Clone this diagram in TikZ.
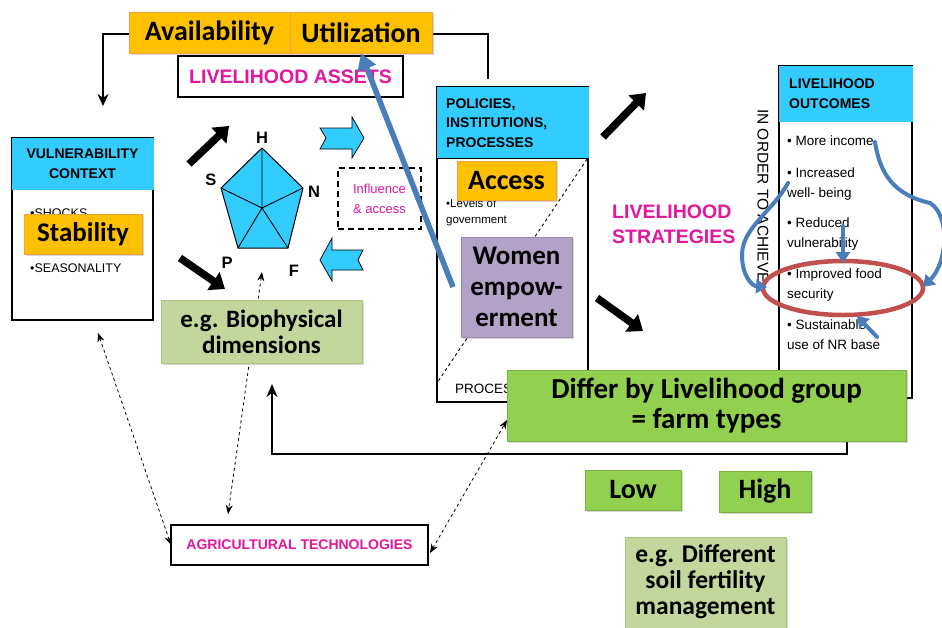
\documentclass[tikz,border=0pt]{standalone}
\usepackage{fontspec}
\setmainfont{Carlito}
\newfontfamily\arial{Liberation Sans}
\usetikzlibrary{arrows.meta,shadows,calc}
\definecolor{cyanb}{HTML}{33CCFF}
\definecolor{orng}{HTML}{FFC000}
\definecolor{orngb}{HTML}{F5A040}
\definecolor{mag}{HTML}{E2179C}
\definecolor{grn}{HTML}{92D050}
\definecolor{pgrn}{HTML}{C3D69B}
\definecolor{pgrnb}{HTML}{A9C47F}
\definecolor{purp}{HTML}{B3A2C7}
\definecolor{bluel}{HTML}{4A7EBB}
\definecolor{redl}{HTML}{C0504D}
\tikzset{
  shad/.style={drop shadow={opacity=0.3,shadow xshift=1.5pt,shadow yshift=-1.5pt}},
  obox/.style={fill=orng,draw=orngb,line width=0.8pt,inner sep=0pt,shad,font=\fontsize{28}{30}\selectfont\bfseries},
  gbox/.style={fill=grn,draw=grn!85!black,line width=0.6pt,inner sep=0pt,shad,align=center,font=\fontsize{28}{30}\selectfont\bfseries},
  pbox/.style={fill=pgrn,draw=pgrnb,line width=0.8pt,inner sep=0pt,shad,align=center,font=\fontsize{25}{26}\selectfont\bfseries},
  wbox/.style={draw,line width=1.3pt,inner sep=0pt},
  hdr/.style={fill=cyanb,inner sep=0pt},
  hdrtxt/.style={font=\arial\bfseries\fontsize{14}{20}\selectfont,inner sep=0pt},
  smalltxt/.style={font=\arial\fontsize{12.5}{20}\selectfont,inner sep=0pt,align=left},
  magtxt/.style={text=mag,font=\arial\bfseries\fontsize{19.5}{24}\selectfont,inner sep=0pt},
  pentlbl/.style={font=\arial\bfseries\fontsize{16.5}{16}\selectfont,inner sep=0pt},
  blockarrow/.style={line width=7.5pt,-{Triangle[length=14pt,width=21pt]}},
  chev/.style={fill=cyanb,draw=black,line width=0.7pt},
  blarrow/.style={draw=bluel,line width=4pt,-{Triangle[length=11pt,width=14pt]}},
  dasharrow/.style={dashed,line width=0.8pt,{Stealth[length=9pt,width=7pt]}-{Stealth[length=9pt,width=7pt]}},
  fbline/.style={line width=2.6pt,-{Stealth[length=13pt,width=11pt]}}
}
\begin{document}
\begin{tikzpicture}[x=1pt,y=-1pt]
\clip (0,0) rectangle (942,627);
\fill[white] (0,0) rectangle (942,627);

% ---------- top connectors ----------
\coordinate (tl1) at (103,34);
\coordinate (tl2) at (103,106);
\coordinate (tr1) at (488,34);
\coordinate (tr2) at (488,79);
\draw[line width=2.5pt,-{Stealth[length=12pt,width=11pt]}] (129,34) -- (tl1) -- (tl2);
\draw[line width=2.5pt] (432,34) -- (tr1) -- (tr2);

% ---------- feedback line ----------
\coordinate (fb1) at (847,454);
\coordinate (fb2) at (272,454);
\coordinate (fb3) at (272,384);
\draw[fbline] (847,398) -- (fb1) -- (fb2) -- (fb3);

% ---------- availability / utilization ----------
\node[obox,minimum width=161pt,minimum height=41pt] (avail) at (209.5,32.5) {Availability};
\node[obox,minimum width=142pt,minimum height=41pt] (util) at (361,32.5) {Utilization};

% ---------- livelihood assets ----------
\node[wbox,minimum width=225pt,minimum height=41pt,magtxt] (assets) at (290.5,76.5) {LIVELIHOOD ASSETS};

% ---------- vulnerability context ----------
\node[wbox,minimum width=141pt,minimum height=182pt] (vul) at (82.5,229) {};
\node[hdr,minimum width=142pt,minimum height=52pt] (vulh) at (82.5,164) {};
\node[hdrtxt,align=center] at (vulh) {VULNERABILITY\\CONTEXT};
\node[smalltxt,anchor=west] (shocks) at (30,213) {•SHOCKS};
\node[smalltxt,anchor=west] (season) at (30,268) {•SEASONALITY};
\node[obox,minimum width=118pt,minimum height=40pt,font=\fontsize{27}{29}\selectfont\bfseries] (stab) at (83,234) {Stability};

% ---------- pentagon ----------
\coordinate (H) at (262,148);
\coordinate (N) at (303,188);
\coordinate (F) at (288,248);
\coordinate (P) at (238,248);
\coordinate (S) at (221,188);
\coordinate (C) at (262,208);
\filldraw[fill=cyanb,line width=1pt,line join=round] (H) -- (N) -- (F) -- (P) -- (S) -- cycle;
\draw[line width=0.9pt] (C) -- (H) (C) -- (N) (C) -- (F) (C) -- (P) (C) -- (S);
\node[pentlbl] at (262,138) {H};
\node[pentlbl] at (211,180) {S};
\node[pentlbl] at (314,192) {N};
\node[pentlbl] at (227,263) {P};
\node[pentlbl] at (294,271) {F};

% ---------- black block arrows ----------
\coordinate (ba1s) at (189,164); \coordinate (ba1e) at (229,126);
\coordinate (ba2s) at (180,258); \coordinate (ba2e) at (225,289);
\coordinate (ba3s) at (603,137); \coordinate (ba3e) at (646,93);
\coordinate (ba4s) at (597,298); \coordinate (ba4e) at (643,331);
\draw[blockarrow] (ba1s) -- (ba1e);
\draw[blockarrow] (ba2s) -- (ba2e);
\draw[blockarrow] (ba3s) -- (ba3e);
\draw[blockarrow] (ba4s) -- (ba4e);

% ---------- cyan chevron arrows ----------
\draw[chev] (320,128) -- (352,128) -- (352,117) -- (364,138) -- (352,158) -- (352,149) -- (320,149) -- (326,138) -- cycle;
\draw[chev] (363,250) -- (332,250) -- (332,238) -- (320,260) -- (332,281) -- (332,270) -- (363,270) -- (358,260) -- cycle;

% ---------- influence & access ----------
\node[draw,dashed,dash pattern=on 6pt off 4pt,line width=1.1pt,minimum width=83pt,minimum height=61pt,inner sep=0pt,
      text=mag,font=\arial\fontsize{13}{20}\selectfont,align=center] (infl) at (379.5,198.5) {Influence\\\& access};

% ---------- dashed double arrows ----------
\coordinate (vulbot) at (98,333);
\coordinate (pentbot) at (262,272);
\coordinate (agritop) at (228,514);
\draw[dasharrow] (vulbot) -- (171,545);
\draw[dasharrow] (pentbot) -- (agritop);
\draw[dasharrow] (430,553) -- (507,420);

% ---------- biophysical ----------
\node[pbox,minimum width=201pt,minimum height=63pt] (bio) at (261.5,331.5) {e.g. Biophysical\\dimensions};

% ---------- agricultural technologies ----------
\node[wbox,line width=1.1pt,minimum width=257pt,minimum height=40pt,text=mag,font=\arial\bfseries\fontsize{14}{16}\selectfont] (agri) at (299.5,545) {AGRICULTURAL TECHNOLOGIES};

% ---------- policies box ----------
\node[wbox,line width=1.5pt,minimum width=151pt,minimum height=315pt] (pol) at (512.5,244.5) {};
\node[hdr,minimum width=152pt,minimum height=71pt] (polh) at (512.5,122.5) {};
\draw[line width=1.3pt] (polh.south west) -- (polh.south east);
\node[hdrtxt,align=left,anchor=west,font=\arial\bfseries\fontsize{14}{19.5}\selectfont] at (446,123) {POLICIES,\\INSTITUTIONS,\\PROCESSES};
\draw[dashed,line width=0.9pt] (587,159) -- (437,383);
\node[smalltxt,anchor=north west,font=\arial\fontsize{11.5}{16}\selectfont] (levels) at (446,199) {•Levels of\\government};
\node[smalltxt,anchor=west,font=\arial\fontsize{13.5}{16}\selectfont] (proc) at (455,389) {PROCESSES};
\node[obox,minimum width=99pt,minimum height=39pt] (access) at (506.5,180.5) {Access};
\node[fill=purp,draw=purp!85!black,line width=0.5pt,inner sep=0pt,shad,minimum width=111pt,minimum height=100pt,
      align=center,font=\fontsize{27}{31}\selectfont\bfseries] (women) at (516.5,287) {Women\\empow-\\erment};

% ---------- livelihood strategies ----------
\node[magtxt,align=left,anchor=west,font=\arial\bfseries\fontsize{19.5}{25}\selectfont] (strat) at (612,224) {LIVELIHOOD\\STRATEGIES};
\node[rotate=-90,font=\arial\fontsize{15.5}{16}\selectfont,inner sep=0pt] (order) at (763,196) {IN ORDER TO ACHIEVE};

% ---------- livelihood outcomes ----------
\node[wbox,line width=1.5pt,minimum width=133pt,minimum height=332pt] (out) at (845.5,232) {};
\node[hdr,minimum width=134pt,minimum height=56pt] (outh) at (845.5,94) {};
\node[hdrtxt,align=left,anchor=west] at (789,94) {LIVELIHOOD\\OUTCOMES};
\tikzset{item/.style={smalltxt,anchor=north west,font=\arial\fontsize{13.5}{20}\selectfont}}
\node[item] (o1) at (787,136) {• More income};
\node[item] (o2) at (787,168) {• Increased\\well- being};
\node[item] (o3) at (787,218) {• Reduced\\vulnerability};
\node[item] (o4) at (787,269) {• Improved food\\security};
\node[item] (o5) at (787,320) {• Sustainable\\use of NR base};

% ---------- differ / low / high / soil ----------
\node[gbox,minimum width=399pt,minimum height=71pt,font=\fontsize{29}{30}\selectfont\bfseries] (differ) at (706.5,405.5) {Differ by Livelihood group\\= farm types};
\node[gbox,minimum width=96pt,minimum height=40pt] (low) at (633,490) {Low};
\node[gbox,minimum width=92pt,minimum height=41pt] (high) at (765,491.5) {High};
\node[pbox,minimum width=161pt,minimum height=96pt,anchor=north] (soil) at (705.5,537) {};
\node[align=center,font=\fontsize{25.5}{26}\selectfont\bfseries,anchor=north,inner sep=0pt] at (705.5,544) {e.g. Different\\soil fertility\\management};

% ---------- red ellipse ----------
\draw[redl,line width=4.5pt] (843,288) ellipse [x radius=80pt,y radius=27pt];

% ---------- blue arrows ----------
\draw[blarrow,line width=5.5pt,-{Triangle[length=16pt,width=19pt]}] (453,287) -- (util.south);
\draw[blarrow,line cap=round] (788,183) .. controls (772,212) and (742,228) .. (742,255) .. controls (742,276) and (752,286) .. (767,287);
\draw[blarrow,line cap=round] (875,142) .. controls (880,175) and (895,195) .. (930,203) .. controls (950,215) and (948,262) .. (923,287);
\draw[blarrow,line cap=round] (843,226) -- (843,263);
\draw[blarrow,line cap=round] (877,337) -- (857,316);

\end{tikzpicture}
\end{document}
